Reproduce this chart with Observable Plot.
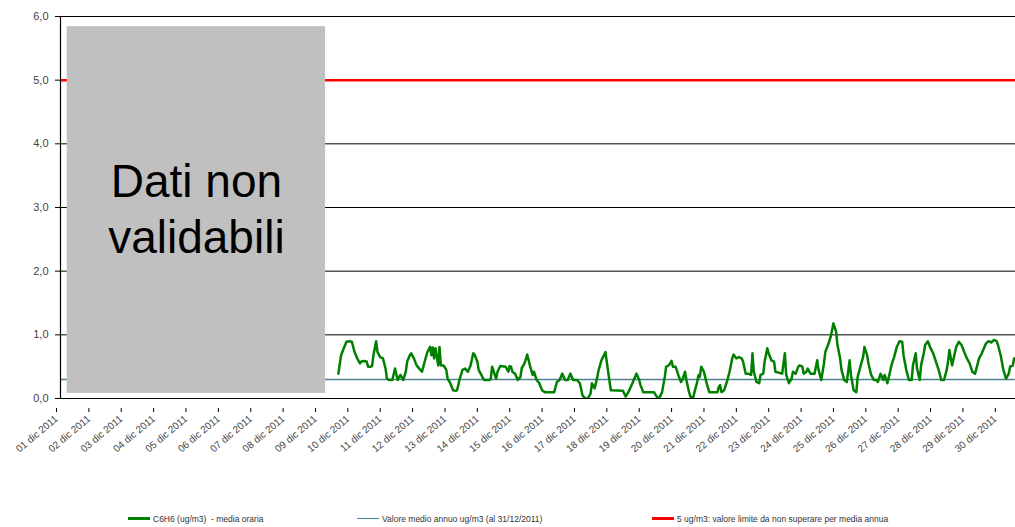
<!DOCTYPE html>
<html>
<head>
<meta charset="utf-8">
<script src="https://cdn.jsdelivr.net/npm/d3@7"></script>
<script src="https://cdn.jsdelivr.net/npm/@observablehq/plot@0.6"></script>
<style>
  html, body { margin: 0; padding: 0; background: #fff; }
  body { width: 1015px; height: 527px; overflow: hidden; font-family: "Liberation Sans", Arial, sans-serif; }
  #legend { position: relative; height: 17px; }
  .item { position: absolute; top: 0; height: 17px; display: flex; align-items: center; font-size: 8.5px; color: #333; white-space: pre; }
  .sw { display: inline-block; width: 22px; margin-right: 3px; }
</style>
</head>
<body>
<div id="chart"></div>
<div id="legend"></div>
<script>
// ---- data ----
// hour offsets from 01 dic 2011 00:00 and hourly C6H6 values (ug/m3)
const hourOfMonth = [
206,208,210,212,214,216,218,220,222,223,225,227,228,230,231,232,234,235,237,239,241,242,244,246,248,250,252,254,256,257,259,260,262,264,266,268,270,272,274,275,276,277,278,280,281,282,284,286,287,289,291,293,294,296,298,300,302,
304,306,307,309,310,312,314,318,319,320,322,323,324,326,330,332,333,334,335,337,339,341,342,344,346,348,350,351,353,355,357,359,366,368,370,372,374,376,378,380,383,385,387,389,391,393,394,396,398,399,401,403,404,
406,408,417,419,421,424,425,427,429,430,432,440,442,444,446,448,449,451,453,454,456,458,460,461,463,464,466,467,469,470,472,473,474,475,477,479,481,487,488,489,490,492,494,496,498,499,501,503,
505,506,508,510,512,513,514,516,518,519,521,522,524,525,527,529,530,535,537,538,540,542,543,545,547,548,550,551,553,554,556,559,561,562,564,566,567,569,571,573,575,576,578,579,581,583,585,586,588,590,591,593,595,596,598,599,601,603,
605,606,608,610,611,613,615,616,618,620,622,624,625,627,629,631,632,634,635,637,638,640,641,643,645,647,649,651,653,655,657,658,659,661,663,664,666,668,670,672,674,676,678,679,681,683,685,686,688,690,692,694,695,697,699,701,703,704,706,707
];
const c6h6 = [
0.39,0.68,0.79,0.89,0.90,0.89,0.73,0.63,0.55,0.58,0.59,0.58,0.50,0.50,0.51,0.68,0.90,0.73,0.65,0.63,0.47,0.31,0.29,0.29,0.47,0.29,0.37,0.29,0.42,0.58,0.68,0.71,0.63,0.52,0.47,0.42,0.58,0.73,0.81,0.68,0.80,0.63,0.79,0.52,0.81,0.52,0.52,0.45,0.31,0.24,0.13,0.12,0.13,0.31,0.45,0.47,0.42,
0.52,0.71,0.69,0.58,0.45,0.37,0.29,0.29,0.31,0.50,0.37,0.31,0.42,0.51,0.50,0.42,0.51,0.50,0.42,0.39,0.29,0.34,0.48,0.55,0.69,0.52,0.37,0.42,0.29,0.24,0.13,0.10,0.10,0.26,0.29,0.39,0.29,0.29,0.39,0.29,0.29,0.24,0.05,0.00,0.00,0.08,0.24,0.16,0.34,0.45,0.60,0.68,0.73,
0.42,0.13,0.12,0.03,0.10,0.24,0.29,0.39,0.29,0.21,0.10,0.10,0.03,0.01,0.10,0.34,0.50,0.52,0.59,0.50,0.50,0.37,0.26,0.29,0.42,0.29,0.10,0.03,0.01,0.10,0.26,0.37,0.34,0.50,0.42,0.24,0.10,0.10,0.18,0.21,0.10,0.13,0.26,0.42,0.63,0.69,0.63,0.65,
0.63,0.58,0.39,0.39,0.37,0.71,0.42,0.26,0.24,0.37,0.39,0.58,0.79,0.71,0.60,0.58,0.42,0.39,0.71,0.37,0.24,0.31,0.42,0.39,0.50,0.52,0.50,0.39,0.42,0.47,0.39,0.39,0.60,0.45,0.29,0.55,0.73,0.84,0.97,1.18,1.05,0.84,0.63,0.45,0.29,0.26,0.60,0.37,0.13,0.10,0.34,0.50,0.65,0.81,0.68,0.55,0.37,0.29,
0.29,0.26,0.39,0.29,0.37,0.24,0.42,0.52,0.65,0.81,0.90,0.89,0.68,0.45,0.29,0.29,0.52,0.71,0.47,0.29,0.52,0.71,0.84,0.90,0.79,0.71,0.58,0.45,0.29,0.29,0.45,0.58,0.76,0.52,0.71,0.81,0.89,0.84,0.73,0.63,0.55,0.42,0.39,0.47,0.63,0.71,0.81,0.86,0.90,0.88,0.92,0.90,0.84,0.68,0.45,0.31,0.39,0.50,0.52,0.63
];
const meanAnnual = [0.3];        // Valore medio annuo
const limitValue = [5];          // valore limite
const gridValues = [1, 2, 3, 4, 6];
const yTicks = [0, 1, 2, 3, 4, 5, 6];
// period with non-validated data (hour offsets) and box extent in ug/m3
const invalidPeriod = [{startHour: 5, endHour: 196.5, low: 0.08, high: 5.84, label: "Dati non\nvalidabili", labelY: 3.01}];
const monthLabel = "dic";
const yearLabel = "2011";
const viewEndHour = 708;
const legendItems = [
  {label: "C6H6 (ug/m3)  - media oraria", color: "#008000", h: 2.5, left: 128},
  {label: "Valore medio annuo ug/m3 (al 31/12/2011)", color: "#4f8196", h: 1.5, left: 357},
  {label: "5 ug/m3: valore limite da non superare per media annua", color: "#ff0000", h: 2.5, left: 652}
];

// ---- build ----
const t0 = Date.UTC(2011, 11, 1);
const toDate = h => new Date(t0 + h * 3600e3);
const data = hourOfMonth.map((h, i) => ({date: toDate(h), value: c6h6[i]}));
const boxes = invalidPeriod.map(d => ({...d, x1: toDate(d.startHour), x2: toDate(d.endHour), xm: toDate((d.startHour + d.endHour) / 2)}));
const dayTicks = d3.utcDay.range(toDate(0), toDate(720));
const fmtDay = d3.utcFormat("%d");

const chart = Plot.plot({
  width: 1015,
  height: 510,
  marginLeft: 60,
  marginRight: 0,
  marginTop: 16,
  marginBottom: 112,
  style: {fontFamily: "'Liberation Sans', Arial, sans-serif", background: "#fff", color: "#444"},
  x: {type: "utc", domain: [toDate(0), toDate(viewEndHour)]},
  y: {domain: [0, 6]},
  marks: [
    Plot.ruleY(gridValues, {stroke: "#000", strokeWidth: 1}),
    Plot.ruleY(meanAnnual, {stroke: "#4f8196", strokeWidth: 1.5}),
    Plot.ruleY(limitValue, {stroke: "#ff0000", strokeWidth: 2.5}),
    Plot.rect(boxes, {x1: "x1", x2: "x2", y1: "low", y2: "high", fill: "#c0c0c0"}),
    Plot.text(boxes, {x: "xm", y: "labelY", text: "label", fontSize: 46, lineHeight: 1.22, fill: "#000", fontFamily: "'Liberation Sans', Arial, sans-serif"}),
    Plot.lineY(data, {x: "date", y: "value", stroke: "#008000", strokeWidth: 2.5, clip: true}),
    Plot.ruleY([0], {stroke: "#000", strokeWidth: 1.2}),
    Plot.ruleX([toDate(0)], {stroke: "#000", strokeWidth: 1.2}),
    Plot.axisX({ticks: dayTicks, tickSize: 4, tickPadding: 5, dx: -4, dy: 10, tickRotate: -40, fontSize: 10, stroke: "#000",
      tickFormat: d => `${fmtDay(d)} ${monthLabel} ${yearLabel}`}),
    Plot.axisY({ticks: yTicks, tickSize: 5, tickPadding: 7, fontSize: 11, stroke: "#000",
      tickFormat: d => d.toFixed(1).replace(".", ",")})
  ]
});
document.getElementById("chart").appendChild(chart);

const legend = document.getElementById("legend");
for (const it of legendItems) {
  const div = document.createElement("div");
  div.className = "item";
  div.style.left = it.left + "px";
  const sw = document.createElement("span");
  sw.className = "sw";
  sw.style.height = it.h + "px";
  sw.style.background = it.color;
  div.appendChild(sw);
  div.appendChild(document.createTextNode(it.label));
  legend.appendChild(div);
}
</script>
</body>
</html>
